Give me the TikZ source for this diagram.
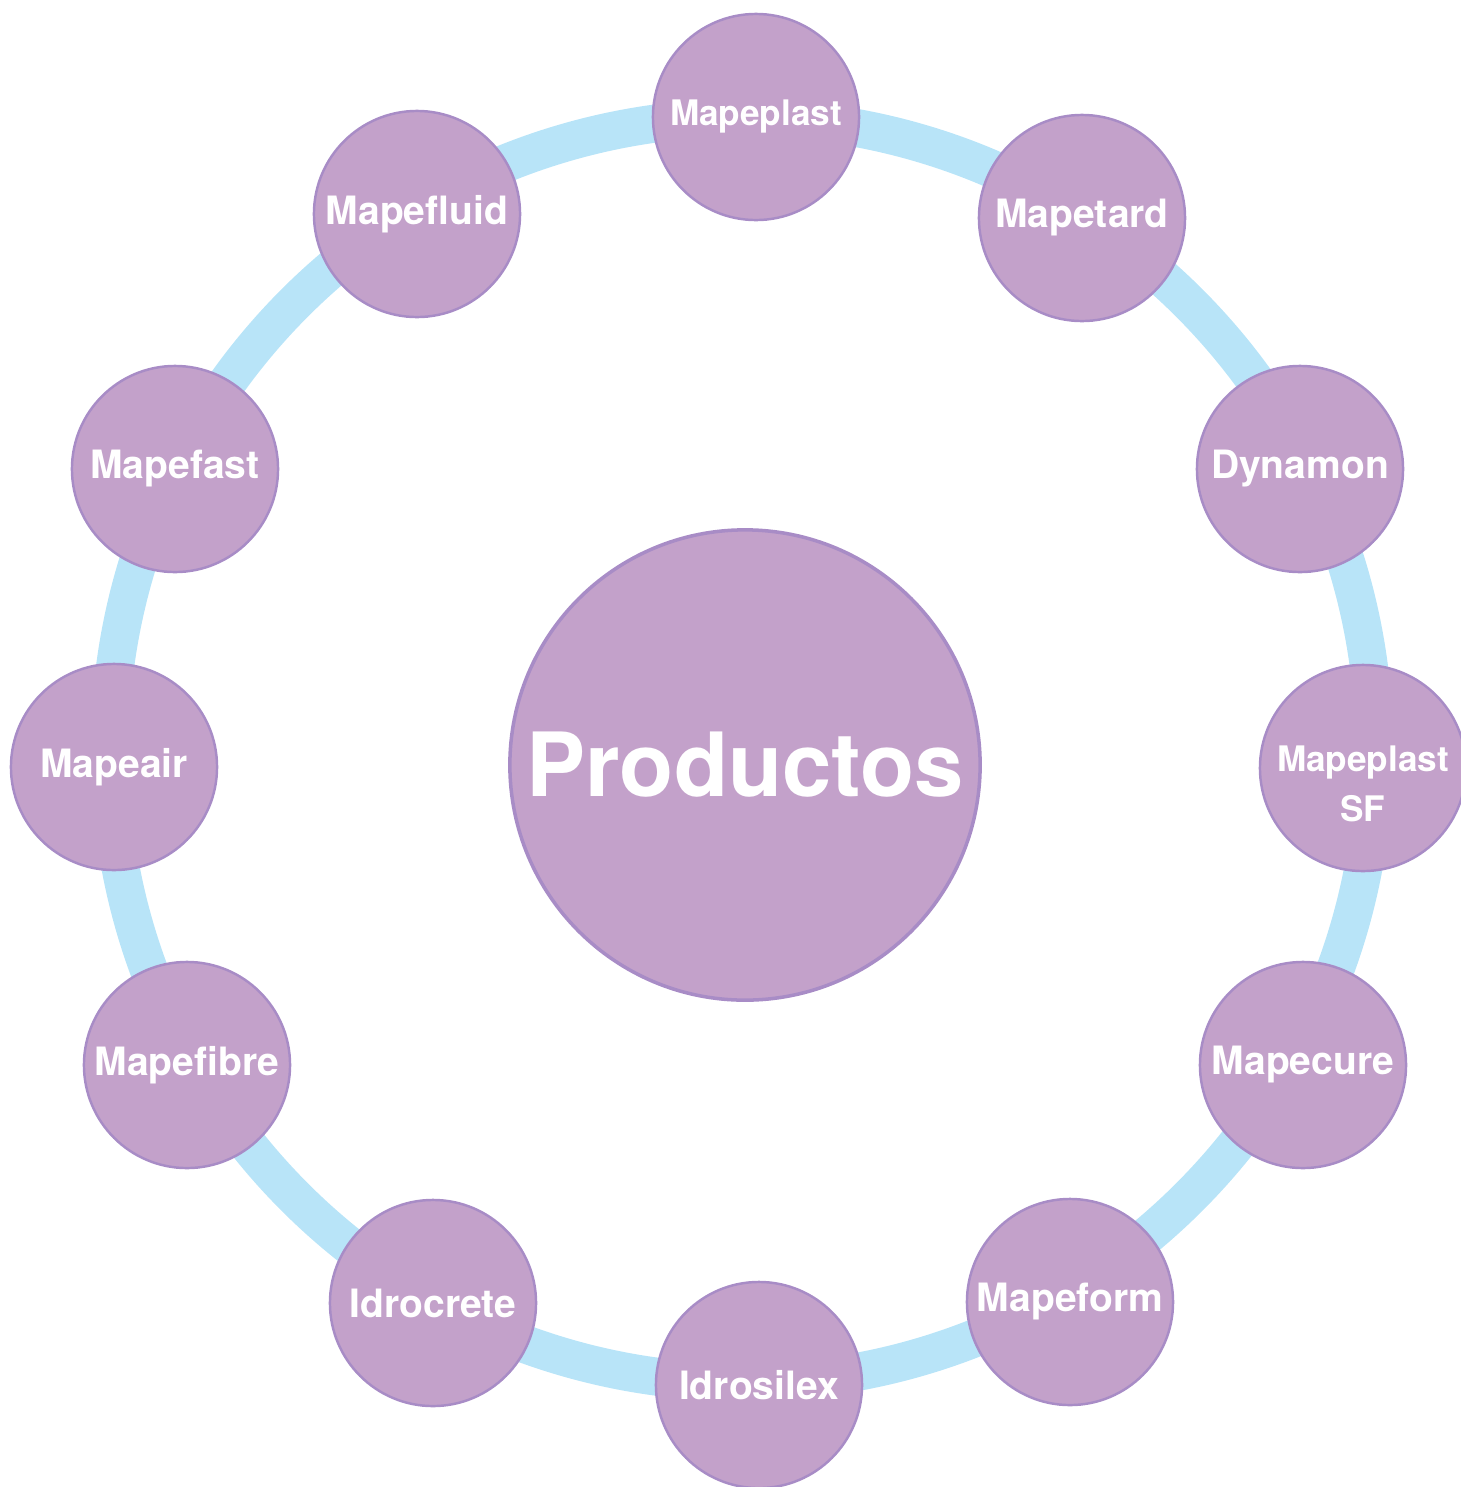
\documentclass[tikz,border=0pt]{standalone}
\usepackage{fontspec}
\setmainfont{TeX Gyre Heros}
\definecolor{nodefill}{HTML}{C3A1CA}
\definecolor{nodeedge}{HTML}{A88CC6}
\definecolor{ringblue}{HTML}{B8E4F8}
\begin{document}
\begin{tikzpicture}[x=0.01cm,y=-0.01cm,
  ring/.style={draw=ringblue,line width=0.38cm},
  prod/.style={circle,draw=nodeedge,fill=nodefill,line width=0.7pt,minimum size=2.06cm,inner sep=0pt,text=white,font=\bfseries\fontsize{11.1}{13}\selectfont},
  prodsmall/.style={prod,font=\bfseries\fontsize{10}{14.2}\selectfont},
  hub/.style={circle,draw=nodeedge,fill=nodefill,line width=1pt,minimum size=4.7cm,inner sep=0pt,text=white,font=\bfseries\fontsize{25.2}{30}\selectfont},
  lbl/.style={text=white,align=center,font=\bfseries\fontsize{10}{14.2}\selectfont}]
\useasboundingbox (0,0) rectangle (1461,1487);
\coordinate (ringc) at (742,750);
\draw[ring] (ringc) circle[radius=6.32cm];
\node[hub] (hub) at (745,765) {Productos};
\node[prodsmall] (mapeplast) at (756,117) {Mapeplast};
\node[prod] (mapetard) at (1082,218) {Mapetard};
\node[prod] (dynamon) at (1300,469) {Dynamon};
\node[prod, label={[lbl,yshift=-0.16cm]center:Mapeplast\\SF}] (mapeplastsf) at (1363,768) {};
\node[prod] (mapecure) at (1303,1065) {Mapecure};
\node[prod] (mapeform) at (1070,1302) {Mapeform};
\node[prod] (idrosilex) at (759,1385) {Idrosilex};
\node[prod] (idrocrete) at (433,1303) {Idrocrete};
\node[prod] (mapefibre) at (187,1065) {Mapefibre};
\node[prod] (mapeair) at (114,767) {Mapeair};
\node[prod] (mapefast) at (175,469) {Mapefast};
\node[prod] (mapefluid) at (417,214) {Mapefluid};
\end{tikzpicture}
\end{document}
